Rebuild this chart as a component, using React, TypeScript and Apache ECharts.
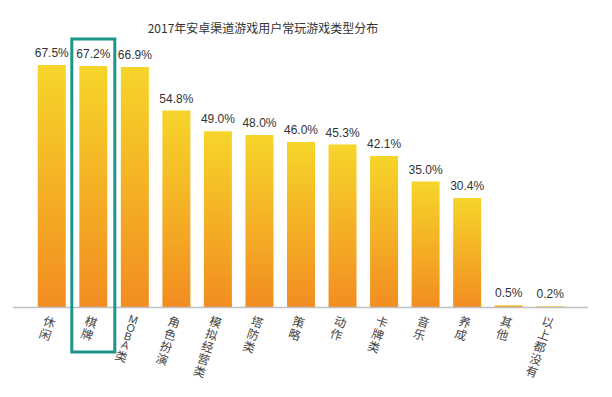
import React, { useEffect, useRef } from "react";
import * as echarts from "echarts";

const titleText = "2017年安卓渠道游戏用户常玩游戏类型分布";
const categories = ["休闲", "棋牌", "MOBA类", "角色扮演", "模拟经营类", "塔防类", "策略", "动作", "卡牌类", "音乐", "养成", "其他", "以上都没有"];
const values = [67.5, 67.2, 66.9, 54.8, 49.0, 48.0, 46.0, 45.3, 42.1, 35.0, 30.4, 0.5, 0.2];
const highlightCategory = "棋牌";

export default function App() {
  const ref = useRef<HTMLDivElement>(null);
  useEffect(() => {
    if (!ref.current) return;
    const chart = echarts.init(ref.current, null, { renderer: "svg" });
    const gridBottomY = 307;
    chart.setOption({
      animation: false,
      backgroundColor: "#ffffff",
      title: {
        text: titleText,
        left: 258,
        textAlign: "center",
        top: 16,
        textStyle: { fontFamily: "Noto Sans CJK SC", fontSize: 12, fontWeight: "normal", color: "#333" },
      },
      grid: { left: 31, right: 41, top: 56, bottom: 397 - gridBottomY },
      xAxis: {
        type: "category",
        data: categories,
        axisLine: { show: false },
        axisTick: { show: false },
        axisLabel: {
          interval: 0,
          rotate: -18,
          align: "center",
          verticalAlign: "top",
          margin: 8,
          fontFamily: "Noto Sans CJK SC",
          fontSize: 12,
          lineHeight: 13,
          color: "#444",
          formatter: (v: string) => {
            const m = v.match(/^([A-Za-z]+)(.*)$/);
            if (m) {
              const latin = m[1].split("").map((c) => `{en|${c}}`).join("\n");
              const rest = m[2].split("").map((c) => `{zh|${c}}`).join("\n");
              return latin + (rest ? "\n" + rest : "");
            }
            return v.split("").map((c) => `{zh|${c}}`).join("\n");
          },
          rich: {
            en: { fontFamily: "Liberation Sans", fontSize: 11, lineHeight: 9, color: "#444" },
            zh: { fontFamily: "Noto Sans CJK SC", fontSize: 12, lineHeight: 13, color: "#444" },
          },
        },
      },
      yAxis: { type: "value", min: 0, max: 70, show: false, splitLine: { show: false } },
      series: [
        {
          type: "bar",
          data: values,
          barWidth: 28,
          itemStyle: {
            color: new echarts.graphic.LinearGradient(0, 0, 0, 1, [
              { offset: 0, color: "#F6D52A" },
              { offset: 1, color: "#F28D21" },
            ]),
          },
          label: {
            show: true,
            position: "top",
            distance: 6,
            formatter: (p: any) => p.value.toFixed(1) + "%",
            fontFamily: "Liberation Sans",
            fontSize: 12,
            color: "#333",
          },
        },
      ],
    });
    const idx = categories.indexOf(highlightCategory);
    const cx = chart.convertToPixel({ xAxisIndex: 0 }, idx) as number;
    chart.setOption({
      graphic: [
        {
          type: "line",
          shape: { x1: 13, y1: gridBottomY + 0.5, x2: 588, y2: gridBottomY + 0.5 },
          style: { stroke: "#c0c0c0", lineWidth: 1.5 },
          z: 10,
        },
        {
          type: "rect",
          shape: { x: cx - 21.5, y: 39, width: 43, height: 313 },
          style: { fill: "none", stroke: "#1E958A", lineWidth: 3 },
          z: 20,
        },
      ],
    });
    return () => chart.dispose();
  }, []);
  return <div ref={ref} style={{ width: 612, height: 397, position: "absolute", left: 0, top: 0 }} />;
}
